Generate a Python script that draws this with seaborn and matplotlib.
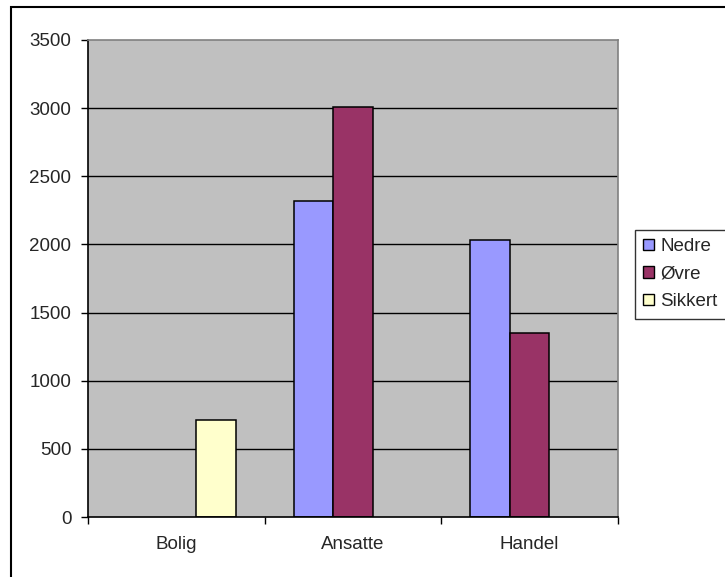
import numpy as np
import pandas as pd
import seaborn as sns
import matplotlib.pyplot as plt
from matplotlib.patches import Rectangle, Patch

categories = ["Bolig", "Ansatte", "Handel"]
series = ["Nedre", "Øvre", "Sikkert"]
nedre = [np.nan, 2320, 2035]
ovre = [np.nan, 3005, 1350]
sikkert = [710, np.nan, np.nan]
colors = ["#9999FF", "#993366", "#FFFFCC"]
yticks = [0, 500, 1000, 1500, 2000, 2500, 3000, 3500]

df = pd.DataFrame({"kategori": categories, "Nedre": nedre, "Øvre": ovre, "Sikkert": sikkert})
long = df.melt(id_vars="kategori", var_name="serie", value_name="verdi").dropna()

sns.set_style("white")
plt.rcParams["font.family"] = ["Liberation Sans", "DejaVu Sans"]

fig = plt.figure(figsize=(7.25, 5.77), dpi=100)
ax = fig.add_axes([88 / 725, 1 - 517 / 577, 530 / 725, 477 / 577])
ax.set_facecolor("#C0C0C0")

sns.barplot(data=long, x="kategori", y="verdi", hue="serie", order=categories,
            hue_order=series, palette=colors, width=0.67, edgecolor="black",
            linewidth=1.1, saturation=1, legend=False, ax=ax)

ax.set_ylim(0, 3500)
ax.set_xlim(-0.5, 2.5)
ax.set_yticks(yticks)
ax.set_yticklabels([str(t) for t in yticks], fontsize=13.5)
ax.tick_params(axis="y", length=5, width=1, color="black", pad=7, left=True)
ax.set_xticks(range(len(categories)))
ax.set_xticklabels(categories, fontsize=13.5)
ax.tick_params(axis="x", which="major", length=0, pad=14)
ax.set_xticks([-0.5, 0.5, 1.5, 2.5], minor=True)
ax.tick_params(axis="x", which="minor", length=5, width=1, color="black", bottom=True)
ax.set_xlabel("")
ax.set_ylabel("")

for t in yticks[1:-1]:
    ax.axhline(t, color="black", lw=1, zorder=0.5)
ax.set_axisbelow(True)

ax.spines["left"].set_color("black")
ax.spines["bottom"].set_color("black")
ax.spines["top"].set_color("#808080")
ax.spines["right"].set_color("#808080")
for s in ax.spines.values():
    s.set_linewidth(1.2)

handles = [Patch(facecolor=c, edgecolor="black", linewidth=1) for c in colors]
leg = fig.legend(handles, series, loc="upper left", bbox_to_anchor=(635 / 725, 1 - 230 / 577),
                 fontsize=13.5, frameon=True, fancybox=False, handlelength=0.55,
                 handleheight=0.55, handletextpad=0.35, labelspacing=0.55,
                 borderpad=0.45, borderaxespad=0)
leg.get_frame().set_edgecolor("black")
leg.get_frame().set_linewidth(1)

fig.patches.append(Rectangle((11 / 725, -0.1), 1.2, 1.1 - 7 / 577, transform=fig.transFigure,
                             fill=False, edgecolor="black", lw=1.5, clip_on=False))

fig.savefig("out.png", dpi=100)
